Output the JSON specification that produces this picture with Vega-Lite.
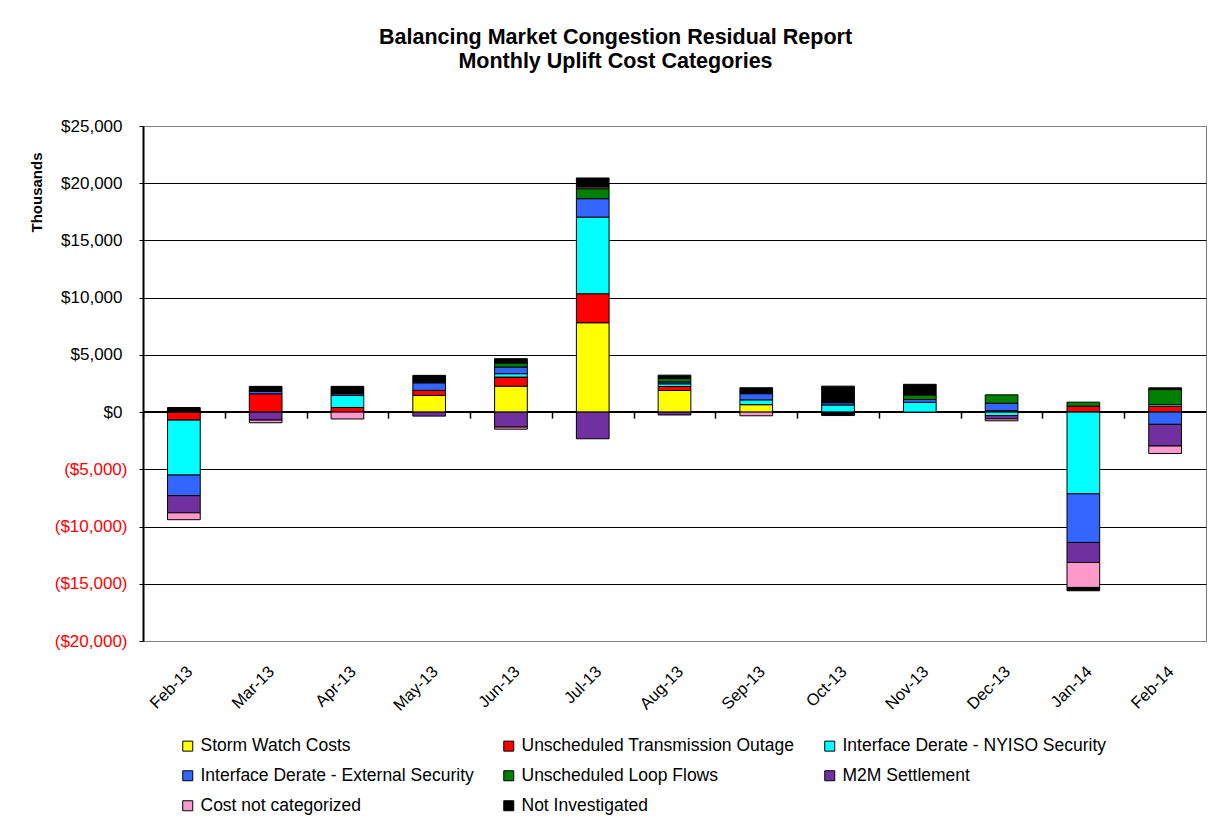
{
  "$schema": "https://vega.github.io/schema/vega-lite/v6.json",
  "width": 1063,
  "height": 515,
  "autosize": "none",
  "padding": {"left": 143, "top": 126, "right": 9, "bottom": 188},
  "background": "white",
  "config": {
    "font": "Liberation Sans",
    "view": {"stroke": "#808080", "strokeWidth": 1}
  },
  "title": {
    "text": ["Balancing Market Congestion Residual Report", "Monthly Uplift Cost Categories"],
    "fontSize": 21.5,
    "fontWeight": "bold",
    "font": "Liberation Sans",
    "color": "black",
    "anchor": "middle",
    "dx": -59,
    "baseline": "bottom",
    "lineHeight": 24,
    "offset": 23
  },
  "data": {
    "values": [
      {"month": "Feb-13", "category": "Unscheduled Transmission Outage", "k": 2, "value": -700},
      {"month": "Feb-13", "category": "Interface Derate - NYISO Security", "k": 3, "value": -4800},
      {"month": "Feb-13", "category": "Interface Derate - External Security", "k": 4, "value": -1800},
      {"month": "Feb-13", "category": "M2M Settlement", "k": 6, "value": -1500},
      {"month": "Feb-13", "category": "Cost not categorized", "k": 7, "value": -600},
      {"month": "Feb-13", "category": "Not Investigated", "k": 8, "value": 400},

      {"month": "Mar-13", "category": "Unscheduled Transmission Outage", "k": 2, "value": 1600},
      {"month": "Mar-13", "category": "Interface Derate - External Security", "k": 4, "value": 200},
      {"month": "Mar-13", "category": "M2M Settlement", "k": 6, "value": -700},
      {"month": "Mar-13", "category": "Cost not categorized", "k": 7, "value": -230},
      {"month": "Mar-13", "category": "Not Investigated", "k": 8, "value": 450},

      {"month": "Apr-13", "category": "Unscheduled Transmission Outage", "k": 2, "value": 400},
      {"month": "Apr-13", "category": "Interface Derate - NYISO Security", "k": 3, "value": 1050},
      {"month": "Apr-13", "category": "Interface Derate - External Security", "k": 4, "value": 150},
      {"month": "Apr-13", "category": "Cost not categorized", "k": 7, "value": -600},
      {"month": "Apr-13", "category": "Not Investigated", "k": 8, "value": 650},

      {"month": "May-13", "category": "Storm Watch Costs", "k": 1, "value": 1460},
      {"month": "May-13", "category": "Unscheduled Transmission Outage", "k": 2, "value": 440},
      {"month": "May-13", "category": "Interface Derate - External Security", "k": 4, "value": 660},
      {"month": "May-13", "category": "M2M Settlement", "k": 6, "value": -350},
      {"month": "May-13", "category": "Not Investigated", "k": 8, "value": 650},

      {"month": "Jun-13", "category": "Storm Watch Costs", "k": 1, "value": 2270},
      {"month": "Jun-13", "category": "Unscheduled Transmission Outage", "k": 2, "value": 790},
      {"month": "Jun-13", "category": "Interface Derate - NYISO Security", "k": 3, "value": 300},
      {"month": "Jun-13", "category": "Interface Derate - External Security", "k": 4, "value": 580},
      {"month": "Jun-13", "category": "Unscheduled Loop Flows", "k": 5, "value": 350},
      {"month": "Jun-13", "category": "M2M Settlement", "k": 6, "value": -1310},
      {"month": "Jun-13", "category": "Cost not categorized", "k": 7, "value": -180},
      {"month": "Jun-13", "category": "Not Investigated", "k": 8, "value": 380},

      {"month": "Jul-13", "category": "Storm Watch Costs", "k": 1, "value": 7810},
      {"month": "Jul-13", "category": "Unscheduled Transmission Outage", "k": 2, "value": 2530},
      {"month": "Jul-13", "category": "Interface Derate - NYISO Security", "k": 3, "value": 6700},
      {"month": "Jul-13", "category": "Interface Derate - External Security", "k": 4, "value": 1610},
      {"month": "Jul-13", "category": "Unscheduled Loop Flows", "k": 5, "value": 870},
      {"month": "Jul-13", "category": "M2M Settlement", "k": 6, "value": -2330},
      {"month": "Jul-13", "category": "Cost not categorized", "k": 7, "value": 150},
      {"month": "Jul-13", "category": "Not Investigated", "k": 8, "value": 790},

      {"month": "Aug-13", "category": "Storm Watch Costs", "k": 1, "value": 1890},
      {"month": "Aug-13", "category": "Unscheduled Transmission Outage", "k": 2, "value": 350},
      {"month": "Aug-13", "category": "Interface Derate - NYISO Security", "k": 3, "value": 230},
      {"month": "Aug-13", "category": "Interface Derate - External Security", "k": 4, "value": 170},
      {"month": "Aug-13", "category": "Unscheduled Loop Flows", "k": 5, "value": 290},
      {"month": "Aug-13", "category": "M2M Settlement", "k": 6, "value": -250},
      {"month": "Aug-13", "category": "Not Investigated", "k": 8, "value": 300},

      {"month": "Sep-13", "category": "Storm Watch Costs", "k": 1, "value": 650},
      {"month": "Sep-13", "category": "Interface Derate - NYISO Security", "k": 3, "value": 420},
      {"month": "Sep-13", "category": "Interface Derate - External Security", "k": 4, "value": 540},
      {"month": "Sep-13", "category": "Cost not categorized", "k": 7, "value": -320},
      {"month": "Sep-13", "category": "Not Investigated", "k": 8, "value": 520},

      {"month": "Oct-13", "category": "Interface Derate - NYISO Security", "k": 3, "value": 620},
      {"month": "Oct-13", "category": "Interface Derate - External Security", "k": 4, "value": 200},
      {"month": "Oct-13", "category": "Not Investigated", "k": 8, "value": 1450},
      {"month": "Oct-13", "category": "Not Investigated", "k": 8, "value": -300},

      {"month": "Nov-13", "category": "Interface Derate - NYISO Security", "k": 3, "value": 850},
      {"month": "Nov-13", "category": "Interface Derate - External Security", "k": 4, "value": 250},
      {"month": "Nov-13", "category": "Unscheduled Loop Flows", "k": 5, "value": 400},
      {"month": "Nov-13", "category": "Not Investigated", "k": 8, "value": 930},

      {"month": "Dec-13", "category": "Unscheduled Transmission Outage", "k": 2, "value": 120},
      {"month": "Dec-13", "category": "Interface Derate - NYISO Security", "k": 3, "value": -300},
      {"month": "Dec-13", "category": "Interface Derate - External Security", "k": 4, "value": 660},
      {"month": "Dec-13", "category": "Unscheduled Loop Flows", "k": 5, "value": 730},
      {"month": "Dec-13", "category": "M2M Settlement", "k": 6, "value": -290},
      {"month": "Dec-13", "category": "Cost not categorized", "k": 7, "value": -170},

      {"month": "Jan-14", "category": "Unscheduled Transmission Outage", "k": 2, "value": 520},
      {"month": "Jan-14", "category": "Interface Derate - NYISO Security", "k": 3, "value": -7140},
      {"month": "Jan-14", "category": "Interface Derate - External Security", "k": 4, "value": -4250},
      {"month": "Jan-14", "category": "Unscheduled Loop Flows", "k": 5, "value": 350},
      {"month": "Jan-14", "category": "M2M Settlement", "k": 6, "value": -1750},
      {"month": "Jan-14", "category": "Cost not categorized", "k": 7, "value": -2180},
      {"month": "Jan-14", "category": "Not Investigated", "k": 8, "value": -290},

      {"month": "Feb-14", "category": "Unscheduled Transmission Outage", "k": 2, "value": 520},
      {"month": "Feb-14", "category": "Interface Derate - NYISO Security", "k": 3, "value": 150},
      {"month": "Feb-14", "category": "Interface Derate - External Security", "k": 4, "value": -1070},
      {"month": "Feb-14", "category": "Unscheduled Loop Flows", "k": 5, "value": 1300},
      {"month": "Feb-14", "category": "M2M Settlement", "k": 6, "value": -1890},
      {"month": "Feb-14", "category": "Cost not categorized", "k": 7, "value": -660},
      {"month": "Feb-14", "category": "Not Investigated", "k": 8, "value": 150}
    ]
  },
  "layer": [
    {
      "mark": {"type": "rule", "color": "black", "strokeWidth": 2},
      "encoding": {"y": {"datum": 0}}
    },
    {
      "mark": {"type": "bar", "stroke": "black", "strokeWidth": 1},
      "encoding": {
        "x": {
          "field": "month",
          "type": "ordinal",
          "sort": ["Feb-13", "Mar-13", "Apr-13", "May-13", "Jun-13", "Jul-13", "Aug-13", "Sep-13", "Oct-13", "Nov-13", "Dec-13", "Jan-14", "Feb-14"],
          "scale": {"paddingInner": 0.6, "paddingOuter": 0.3},
          "axis": {
            "orient": "bottom",
            "offset": -228.9,
            "title": null,
            "labelAngle": -45,
            "labelFontSize": 16.5,
            "labelColor": "black",
            "labelPadding": 245,
            "labelOffset": 40.885,
            "ticks": true,
            "tickOffset": -40.885,
            "tickSize": 6,
            "tickColor": "black",
            "tickOpacity": 1,
            "tickWidth": 1.5,
            "domain": false,
            "grid": false,
            "zindex": 1
          }
        },
        "y": {
          "field": "value",
          "type": "quantitative",
          "stack": "zero",
          "scale": {"domain": [-20000, 25000], "nice": false, "zero": false},
          "axis": {
            "values": [-20000, -15000, -10000, -5000, 0, 5000, 10000, 15000, 20000, 25000],
            "labelExpr": "datum.value < 0 ? '($' + format(-datum.value, ',') + ')' : '$' + format(datum.value, ',')",
            "labelColor": {"condition": {"test": "datum.value < 0", "value": "#FF0000"}, "value": "black"},
            "labelFontSize": 17,
            "labelPadding": {"condition": {"test": "datum.value < 0", "value": 12}, "value": 17},
            "tickColor": "black",
            "tickSize": 4,
            "domainColor": "black",
            "domainWidth": 2,
            "grid": true,
            "gridColor": {"condition": {"test": "datum.value == 25000 || datum.value == -20000", "value": "#808080"}, "value": "black"},
            "gridOpacity": 1,
            "gridWidth": 1,
            "title": "Thousands",
            "titleFontSize": 15,
            "titleFontWeight": "bold",
            "titleColor": "black",
            "titleAngle": -90,
            "titleX": -107,
            "titleY": 66,
            "titleAlign": "center",
            "titleBaseline": "middle"
          }
        },
        "color": {
          "field": "category",
          "type": "nominal",
          "scale": {
            "domain": ["Storm Watch Costs", "Unscheduled Transmission Outage", "Interface Derate - NYISO Security", "Interface Derate - External Security", "Unscheduled Loop Flows", "M2M Settlement", "Cost not categorized", "Not Investigated"],
            "range": ["#FFFF00", "#FF0000", "#00FFFF", "#3366FF", "#008000", "#7030A0", "#FF99CC", "#000000"]
          },
          "legend": {
            "orient": "none",
            "legendX": 36,
            "legendY": 611,
            "direction": "horizontal",
            "columns": 3,
            "title": null,
            "symbolType": "square",
            "symbolSize": 100,
            "symbolStrokeColor": "black",
            "symbolStrokeWidth": 1,
            "labelFontSize": 17.5,
            "labelColor": "black",
            "labelOffset": 4,
            "labelLimit": 400,
            "rowPadding": 11,
            "columnPadding": 26,
            "gridAlign": "all"
          }
        },
        "order": {"field": "k", "type": "quantitative"}
      }
    }
  ]
}
